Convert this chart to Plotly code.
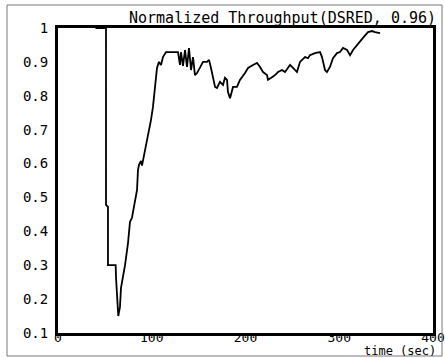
import plotly.graph_objects as go

# Normalized throughput trace over simulation time
time_sec = [40, 51.2, 51.2, 53.3, 53.3, 61.5, 61.9, 64.3, 66.1, 67.2, 71.5, 74.7,
            76.8, 78.9, 84.3, 85.3, 86.4, 88.5, 89.6, 92.8, 96.0, 99.2, 101.3,
            103.5, 105.6, 107.7, 109.9, 112.0, 115.2, 128.0, 130.1, 131.2, 133.3,
            135.5, 137.6, 139.7, 141.9, 144.0, 146.1, 148.3, 151.5, 154.7, 158.9,
            161.1, 163.2, 167.5, 169.6, 172.8, 176.0, 178.1, 180.3, 181.3, 183.5,
            186.7, 190.9, 194.1, 199.5, 202.7, 208.0, 212.3, 215.5, 218.7, 222.9,
            224.0, 228.3, 231.5, 234.7, 238.9, 242.1, 247.5, 250.7, 254.9, 258.1,
            263.5, 266.7, 268.8, 274.1, 279.5, 281.6, 284.8, 286.9, 290.1, 293.3,
            297.6, 300.8, 304.0, 308.3, 311.5, 314.7, 318.9, 322.1, 325.3, 330.7,
            334.9, 338.1, 343.5]
throughput = [1.0, 1.0, 0.478, 0.472, 0.30, 0.30, 0.263, 0.150, 0.177, 0.233, 0.30,
              0.366, 0.428, 0.44, 0.522, 0.581, 0.596, 0.608, 0.594, 0.64, 0.678,
              0.729, 0.767, 0.823, 0.882, 0.90, 0.891, 0.914, 0.929, 0.929, 0.891,
              0.929, 0.888, 0.935, 0.885, 0.941, 0.876, 0.914, 0.861, 0.867, 0.885,
              0.90, 0.90, 0.906, 0.882, 0.826, 0.823, 0.841, 0.832, 0.853, 0.847,
              0.811, 0.793, 0.826, 0.826, 0.847, 0.867, 0.882, 0.891, 0.897, 0.885,
              0.870, 0.861, 0.847, 0.855, 0.861, 0.870, 0.876, 0.870, 0.891, 0.882,
              0.870, 0.90, 0.914, 0.911, 0.920, 0.926, 0.929, 0.914, 0.876, 0.870,
              0.885, 0.911, 0.926, 0.929, 0.941, 0.935, 0.920, 0.935, 0.950, 0.959,
              0.971, 0.988, 0.991, 0.988, 0.985]

x_ticks = [0, 100, 200, 300, 400]
y_ticks = [0.1, 0.2, 0.3, 0.4, 0.5, 0.6, 0.7, 0.8, 0.9, 1.0]
y_tick_text = ["0.1", "0.2", "0.3", "0.4", "0.5", "0.6", "0.7", "0.8", "0.9", "1"]

FONT = "DejaVu Sans Mono"

fig = go.Figure()
fig.add_trace(go.Scatter(
    x=time_sec, y=throughput, mode="lines",
    line=dict(color="black", width=1.8),
    showlegend=False, hoverinfo="skip",
))

axis_common = dict(
    showgrid=False, zeroline=False, showline=True, mirror=True,
    linecolor="black", linewidth=3, ticks="", automargin=False,
    ticklabeloverflow="allow",
)

fig.update_layout(
    width=445, height=358,
    margin=dict(l=58, r=12, t=28, b=25),
    paper_bgcolor="white", plot_bgcolor="white",
    xaxis=dict(range=[0, 400], tickvals=x_ticks, ticklabelstandoff=-10,
               tickfont=dict(family=FONT, size=13, color="black"), **axis_common),
    yaxis=dict(range=[0.1, 1.0], tickvals=y_ticks, ticktext=y_tick_text,
               ticklabelstandoff=4,
               tickfont=dict(family=FONT, size=14, color="black"), **axis_common),
    annotations=[
        dict(text="Normalized Throughput(DSRED, 0.96)", xref="paper", yref="paper",
             x=1.011, y=1.0, xanchor="right", yanchor="bottom", showarrow=False,
             font=dict(family=FONT, size=15, color="black"), borderpad=0),
        dict(text="time (sec)", xref="paper", yref="paper",
             x=1.011, y=-0.0574, xanchor="right", yanchor="middle", showarrow=False,
             font=dict(family=FONT, size=12, color="black"), borderpad=0),
    ],
    shapes=[
        dict(type="rect", xref="paper", yref="paper",
             x0=-0.136, x1=1.024, y0=-0.0754, y1=1.0754,
             line=dict(color="#777777", width=1)),
    ],
)

fig.write_html("out.html")
